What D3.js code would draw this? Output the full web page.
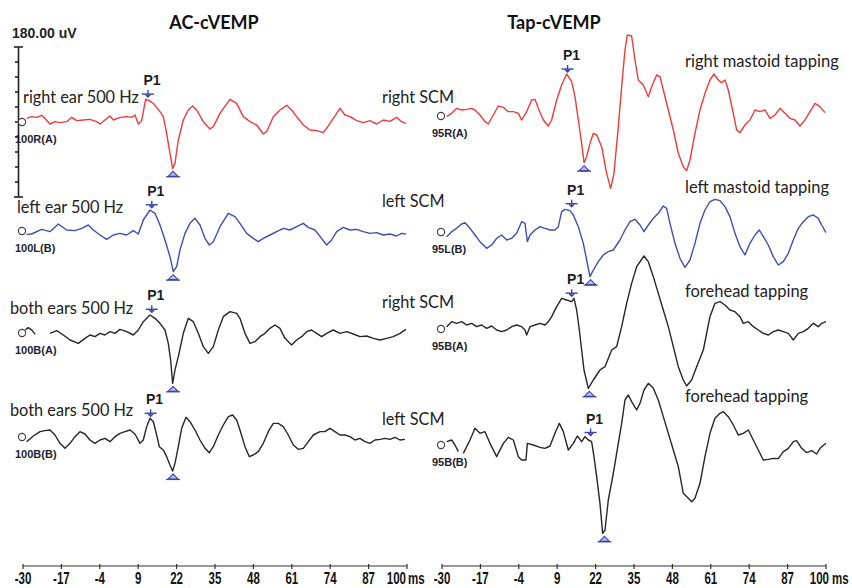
<!DOCTYPE html>
<html><head><meta charset="utf-8">
<script src="https://cdn.jsdelivr.net/npm/d3@7"></script>
<style>
body{margin:0;background:#fff;}
svg{display:block;}
</style></head>
<body>
<svg id="chart" width="852" height="588"></svg>
<script>
// ---------- DATA ----------
const timeTicks = [-30, -17, -4, 9, 22, 35, 48, 61, 74, 87, 100];
const timeUnit = "ms";
const scaleLabel = "180.00 uV";
const panelTitles = ["AC-cVEMP", "Tap-cVEMP"];

const acLabels = ["right ear 500 Hz", "left ear 500 Hz", "both ears 500 Hz", "both ears 500 Hz"];
const acIds = ["100R(A)", "100L(B)", "100B(A)", "100B(B)"];
const tapMuscles = ["right SCM", "left SCM", "right SCM", "left SCM"];
const tapLabels = ["right mastoid tapping", "left mastoid tapping", "forehead tapping", "forehead tapping"];
const tapIds = ["95R(A)", "95L(B)", "95B(A)", "95B(B)"];
const traceColors = ["red", "blue", "black", "black"];

// [time ms, amplitude uV]
const acRightEar = [[-28.8,4.4],[-27.1,6.4],[-25.4,5.6],[-23.7,8],[-22.6,4.4],[-20.9,-2.4],[-19.2,0.4],[-17.5,-0.8],[-15.2,0.4],[-13.5,5.6],[-11.8,1.6],[-9.6,2.4],[-7.3,3.2],[-5.1,0.4],[-3.9,-2.4],[-2.25,2.4],[-0.55,7.2],[0.58,2.4],[2.83,5.6],[5.09,6.4],[6.78,5.6],[7.91,8.4],[9.04,-2.4],[10.17,1.6],[11.52,27.2],[12.65,25.6],[14.12,22.4],[16.37,12.4],[17.5,6.4],[18.63,-13.6],[19.76,-37.6],[20.66,-55.6],[21.45,-49.6],[22.58,-21.6],[24.27,2.4],[25.96,14.4],[27.43,19.2],[28.79,14.4],[31.04,0.4],[33.3,-8.4],[34.43,-5.6],[36.69,10.4],[40.07,27.2],[42.33,22.4],[44.58,6.4],[46.84,0.4],[49.1,-3.6],[51.35,-14.4],[52.48,-11.6],[54.74,6.4],[57,14.4],[59.25,20],[60.94,14.4],[62.64,6.4],[64.9,-3.6],[67.15,-9.6],[69.41,-10.4],[71.67,-12.8],[72.79,-7.6],[75.05,4.4],[77.31,16.4],[79,8.4],[80.69,6.4],[82.95,1.6],[85.2,-0.8],[87.46,1.6],[89.72,-2.4],[91.97,2.4],[94.23,0.8],[96.49,5.6],[98.18,0.4],[99.65,-1.6]];
const acLeftEar = [[-28.8,-4],[-27.07,-3.6],[-23.68,2],[-20.86,-0.8],[-18.04,8.4],[-15.22,1.2],[-12.4,0.4],[-10.14,3.2],[-7.89,7.2],[-6.19,1.2],[-3.94,-4.8],[-1.68,-10],[0.58,-4.8],[2.83,-2.8],[5.09,-4.8],[7.35,0.4],[9.04,-3.6],[10.73,13.2],[12.99,25.2],[14.68,21.2],[16.37,7.2],[18.07,-10.8],[19.76,-30.8],[20.89,-48.8],[22.02,-42.8],[23.14,-22.8],[24.84,-2.8],[26.53,9.2],[28.22,15.2],[29.92,7.2],[31.61,-8.8],[33.07,-16.8],[34.43,-12.8],[36.69,5.2],[39.5,21.2],[41.76,17.2],[43.45,9.2],[45.71,-2.8],[47.97,-8.8],[49.66,-12.8],[51.35,-8.8],[53.61,-4.8],[55.87,-0.8],[58.12,3.2],[60.38,1.2],[62.64,5.2],[64.9,9.2],[66.59,4.4],[68.85,1.2],[71.1,-8.8],[72.79,-16.8],[74.49,-10.8],[76.18,-0.8],[78.44,4.4],[80.69,1.2],[82.95,2],[85.2,-0.8],[87.46,-2.8],[89.72,-2],[91.97,-4.8],[94.23,-3.6],[96.49,-6],[98.18,-2.8],[99.65,-3.6]];
const acBothEarsA = [[-29.2,3.6],[-28.2,6.4],[-26.9,3.2],[-25.9,-1.6],null,[-20.86,-0.4],[-18.6,2.8],[-16.35,-2.4],[-14.09,-8.4],[-11.27,-12.4],[-9.02,-6.4],[-7.32,-2.4],[-5.63,-4.4],[-3.94,-0.4],[-2.25,-2.4],[-0.55,1.6],[1.14,-0.4],[2.83,4.4],[5.09,1.6],[7.35,-2.4],[9.04,3.6],[10.73,13.6],[12.99,21.6],[14.68,17.6],[16.37,11.6],[18.07,3.6],[19.19,-12.4],[19.98,-32.4],[20.66,-60.4],[21.45,-44.4],[22.58,-28.4],[24.27,-0.4],[25.96,17.6],[27.66,13.6],[29.35,-0.4],[31.04,-16.4],[32.74,-24.4],[34.43,-16.4],[36.12,3.6],[37.81,19.6],[40.07,25.6],[42.33,23.6],[43.45,17.6],[45.15,-0.4],[46.84,-12.4],[48.53,-10.4],[50.23,-4.4],[51.92,-0.4],[53.61,5.6],[55.3,9.6],[57,5.6],[58.69,-6.4],[60.94,-14.4],[62.64,-8.4],[64.33,-4.4],[66.02,1.6],[67.71,3.6],[69.41,-0.4],[71.1,-4.4],[72.79,-0.4],[75.05,3.6],[77.31,-0.4],[79.57,1.6],[81.82,-1.2],[84.08,-4.4],[86.34,-3.6],[88.59,-6.4],[90.85,-8.4],[93.1,-6.4],[95.36,-4.4],[97.62,-0.4],[99.65,4.4]];
const acBothEarsB = [[-28.76,-5.6],[-26.51,1.2],[-24.25,6.4],[-22.56,7.6],[-20.86,8.4],[-19.17,2.4],[-17.48,-7.6],[-15.79,-13.6],[-14.09,-7.6],[-12.4,0.4],[-10.71,6.4],[-9.02,3.6],[-7.32,-3.6],[-5.63,-7.6],[-3.94,-3.6],[-2.25,-1.6],[-0.55,-5.6],[1.14,0.4],[2.83,4.4],[4.53,6.4],[6.22,8.4],[7.91,3.6],[9.6,-7.6],[10.73,-3.6],[11.86,12.4],[12.99,22.4],[14.12,18.4],[15.25,2.4],[16.15,-11.6],[17.5,-15.6],[18.63,-23.6],[19.76,-33.6],[20.66,-40.8],[21.45,-31.6],[22.58,-11.6],[23.71,10.4],[25.18,23.6],[26.53,18.4],[28.22,8.4],[29.92,-3.6],[31.61,-13.6],[33.07,-18.8],[34.43,-11.6],[36.12,2.4],[37.81,14.4],[39.51,24.4],[40.97,26.4],[42.33,20.4],[43.45,8.4],[45.15,-11.6],[46.62,-23.6],[47.97,-21.6],[49.66,-17.6],[51.35,-7.6],[53.05,6.4],[54.74,16.4],[56.43,16.4],[58.12,12.4],[59.82,2.4],[61.51,-9.6],[63.2,-14.8],[64.9,-13.6],[66.59,-5.6],[68.28,2.4],[70.54,6.4],[72.23,6.4],[73.92,10.4],[75.61,6.4],[77.31,2.4],[79,2.4],[80.69,0.4],[82.39,-3.6],[84.08,-1.6],[85.77,-5.6],[87.46,-7.6],[89.15,-3.6],[90.85,-2.8],[92.54,-1.6],[94.23,-2.8],[95.93,-0.4],[97.62,-3.6],[99.31,-2.8]];

const tapRightMastoid = [[-28.42,-0.8],[-26.73,3.2],[-25.04,9.2],[-23.34,7.2],[-21.65,8],[-19.96,9.2],[-18.83,7.2],[-17.14,1.2],[-15.45,-6.8],[-14.32,-9.6],[-12.62,1.2],[-10.93,12],[-9.24,10.4],[-7.55,5.2],[-5.85,5.2],[-4.16,3.2],[-3.03,-4.8],[-1.34,5.2],[0.35,19.2],[1.48,20],[2.61,9.2],[4.3,-4.8],[5.99,-12],[7.12,-4.8],[8.82,19.2],[10.51,37.2],[12.2,50.4],[13.89,41.2],[15.02,23.2],[16.15,-4.8],[17.28,-32.8],[18.07,-56],[18.97,-48.8],[20.1,-32.8],[21.23,-20.8],[22.36,-22.8],[24.05,-36.8],[25.74,-68.8],[27.09,-86.8],[28.22,-68.8],[29.69,-12.8],[30.82,35.2],[31.95,79.2],[32.74,97.2],[34.2,96],[35.33,67.2],[36.46,43.2],[38.15,37.2],[39.85,23.2],[40.98,35.2],[42.67,49.2],[43.8,47.2],[44.92,31.2],[46.62,7.2],[48.31,-16.8],[50,-44.8],[51.69,-60.8],[52.82,-65.6],[53.95,-52.8],[55.64,-20.8],[57.34,7.2],[59.03,27.2],[60.72,43.2],[62.08,50.4],[63.54,43.2],[64.67,40],[65.8,43.2],[66.93,31.2],[68.62,3.2],[69.75,-16.8],[70.88,-20],[72.57,-10.8],[74.26,-4.8],[75.96,7.2],[77.65,5.2],[79.34,7.2],[81.03,-2.8],[82.73,1.2],[84.42,9.2],[86.11,3.2],[87.8,-2.8],[89.5,-4.8],[91.19,-12],[92.88,-4.8],[94.57,5.2],[96.27,15.2],[97.96,11.2],[99.65,4]];
const tapLeftMastoid = [[-28.42,-5.6],[-26.73,0.4],[-25.04,4.4],[-23.34,9.6],[-22.22,11.2],[-20.52,4.4],[-18.83,-3.6],[-17.14,-11.6],[-14.88,-19.6],[-13.19,-15.6],[-11.5,-7.6],[-9.8,-3.6],[-8.11,-9.6],[-6.42,-7.6],[-4.73,-1.6],[-3.03,12.4],[-1.9,10.4],[-1.11,-11.6],[-0.21,-3.6],[1.48,2.4],[3.17,6.4],[4.87,4.4],[6.56,2.4],[8.25,2.4],[9.38,6.4],[10.51,24.4],[11.64,27.2],[13.33,25.6],[14.46,20.4],[16.15,6.4],[17.84,-13.6],[18.97,-33.6],[20.1,-53.6],[21.23,-45.6],[22.92,-35.6],[24.61,-27.6],[26.3,-23.6],[28,-21.6],[30.25,-9.6],[31.95,2.4],[33.64,12.4],[35.33,15.2],[37.03,8.4],[38.38,0.4],[39.85,8.4],[41.54,16.4],[43.23,22.4],[44.92,31.2],[46.05,28.4],[47.18,10.4],[48.87,-13.6],[50.57,-31.6],[52.26,-42.4],[53.95,-33.6],[55.64,-13.6],[57.34,10.4],[59.03,26.4],[60.72,36.4],[62.41,39.2],[64.11,37.6],[65.8,30.4],[67.49,18.4],[69.19,-1.6],[70.88,-17.6],[72.57,-27.6],[74.26,-13.6],[75.96,-3.6],[77.42,2.4],[78.77,-5.6],[80.47,-15.6],[82.16,-29.6],[83.85,-39.6],[85.55,-35.6],[87.24,-25.6],[88.93,-9.6],[90.63,4.4],[92.32,12.4],[94.01,18.4],[95.7,20.4],[97.4,16.4],[98.53,8.4],[99.98,-0.8]];
const tapForeheadA = [[-28.42,2.8],[-26.73,8.8],[-25.04,6.8],[-23.34,8.8],[-21.65,4.8],[-19.96,6.8],[-18.27,2.8],[-16.57,4.8],[-14.88,0.8],[-13.19,3.6],[-11.5,-1.2],[-9.8,-3.2],[-8.11,-1.2],[-6.42,2.8],[-4.73,4.8],[-3.03,2.8],[-1.9,-1.2],[-1.34,-7.2],[-0.21,2.8],[1.48,4.8],[3.17,6.8],[4.87,4.8],[5.99,8.8],[7.12,14.8],[8.82,26.8],[10.51,36.8],[12.2,34.8],[13.89,32.8],[14.68,36.8],[15.58,22.8],[16.49,-1.2],[17.28,-25.2],[18.07,-49.2],[19.53,-71.2],[21.23,-61.2],[23.48,-49.2],[25.18,-45.2],[27.43,-25.2],[29.13,-21.2],[30.82,2.8],[32.51,30.8],[34.2,54.8],[35.9,74.8],[38.38,87.6],[39.85,80.8],[41.54,62.8],[43.23,42.8],[44.92,22.8],[46.62,2.8],[48.31,-21.2],[50,-45.2],[51.69,-61.2],[52.82,-68.4],[54.51,-61.2],[56.21,-45.2],[58.47,-25.2],[59.59,-5.2],[60.72,14.8],[62.41,30.8],[64.11,32.8],[65.8,28.8],[67.49,22.8],[69.19,20.8],[70.88,14.8],[72,6.8],[73.7,8.8],[75.39,2.8],[77.08,-1.2],[78.77,-5.2],[80.47,-7.2],[82.16,-3.2],[83.85,-1.2],[85.55,-3.2],[87.24,-5.2],[88.93,-13.2],[90.63,-5.2],[92.32,-3.2],[94.01,0.8],[95.7,6.8],[97.4,2.8],[98.53,6.8],[99.98,8.8]];
const tapForeheadB = [[-28.42,4],[-26.73,6],[-25.6,0],[-24.47,-8],null,[-22.78,-10],[-20.52,6],[-18.83,20],[-17.14,14],[-15.45,16],[-13.75,2],[-11.5,-14],[-9.24,2],[-7.55,9.2],[-5.85,6],[-4.16,-14],[-3.03,-18],[-1.57,-18],[-1.11,2],[0.92,0],[3.17,-2.8],[4.87,-4],[6.56,-1.2],[8.25,14],[9.72,26],[11.07,16],[12.76,-6],[14.46,2],[15.81,10.8],[17.28,4],[18.41,10],[19.54,6],[20.66,4],[21.45,-14],[22.36,-38],[23.48,-70],[24.39,-106],[25.18,-102],[26.3,-66],[28,-34],[29.69,2],[30.82,26],[31.95,54],[33.08,60],[34.2,52],[35.9,42],[37.03,50],[38.38,66],[39.85,74],[41.54,68],[43.23,54],[44.92,34],[46.62,14],[48.31,-6],[50,-26],[51.69,-58],[53.39,-64],[54.52,-68],[55.64,-64],[57.34,-46],[59.03,-14],[60.72,14],[62.41,32],[64.11,38],[65.24,40],[66.93,34],[68.62,24],[70.31,12],[72,14],[73.7,18],[75.39,6],[77.08,-6],[78.77,-18],[80.47,-17.2],[82.16,-16],[83.85,-16.4],[85.55,-8],[87.24,-4],[88.93,4],[90.06,5.2],[91.75,-4],[93.45,-9.2],[95.14,-6.8],[96.83,-10.8],[97.96,-4],[99.98,2]];

// P1 peak and trough markers [time ms, amplitude uV]
const acP1 = [[12.3,27.5],[13.6,25.5],[13.6,22.5],[13.2,22.5]];
const acN1 = [[20.8,-55.6],[20.8,-48.8],[20.8,-60.4],[20.8,-40.8]];
const tapP1 = [[12.5,50.4],[13.9,28],[13.9,37],[20.3,9]];
const tapN1 = [[18.1,-56],[20.3,-53.6],[19.9,-71.2],[25.0,-106]];

// ---------- LAYOUT ----------
const svg = d3.select("#chart");
const colorMap = {red: "#ee3b3b", blue: "#3d4fb0", black: "#262626"};
const markerColor = "#3a46a8";
const labelFont = "Lato, 'Open Sans', sans-serif";
const boldFont = "'Liberation Sans', Arial, sans-serif";

const panels = [
  {x: d3.scaleLinear().domain([-30, 100]).range([23, 407]), bases: [122, 231, 333, 437],
   traces: [acRightEar, acLeftEar, acBothEarsA, acBothEarsB], ids: acIds, p1: acP1, n1: acN1, title: panelTitles[0], titleX: 214},
  {x: d3.scaleLinear().domain([-30, 100]).range([442, 826]), bases: [116, 232, 329, 445],
   traces: [tapRightMastoid, tapLeftMastoid, tapForeheadA, tapForeheadB], ids: tapIds, p1: tapP1, n1: tapN1, title: panelTitles[1], titleX: 554}
];
// amplitude: 180 uV spans 150 px
const amp = d3.scaleLinear().domain([-90, 90]).range([75, -75]);

// condensed bold text helper
function narrowText(sel, x, y, txt, anchor) {
  return sel.append("text")
    .attr("transform", `translate(${x},${y}) scale(0.72,1)`)
    .attr("text-anchor", anchor || "start").text(txt)
    .attr("font-family", boldFont).attr("font-weight", "bold").attr("font-size", 16).attr("fill", "#111");
}

// scale bar
const bar = svg.append("g").attr("stroke", "#222").attr("stroke-width", 1.6);
bar.append("line").attr("x1", 18.5).attr("x2", 18.5).attr("y1", amp(90) + 122).attr("y2", amp(-90) + 122);
d3.range(-90, 91, 18).forEach(v => {
  const y = amp(v) + 122;
  const cap = (v === 90 || v === -90);
  bar.append("line").attr("x1", cap ? 14 : 15).attr("x2", cap ? 23 : 18.5).attr("y1", y).attr("y2", y);
});
svg.append("text").attr("x", 12).attr("y", 38).text(scaleLabel)
  .attr("font-family", boldFont).attr("font-size", 14).attr("font-weight", "bold").attr("fill", "#222");

panels.forEach((p, pi) => {
  const g = svg.append("g");
  g.append("text").attr("x", p.titleX).attr("y", 29).attr("text-anchor", "middle").text(p.title)
    .attr("font-family", labelFont).attr("font-weight", "bold").attr("font-size", 18).attr("fill", "#111");

  p.traces.forEach((tr, i) => {
    const base = p.bases[i];
    const y = v => base + amp(v);
    const line = d3.line().defined(d => d != null).x(d => p.x(d[0])).y(d => y(d[1]));
    g.append("path").attr("d", line(tr)).attr("fill", "none")
      .attr("stroke", colorMap[traceColors[i]]).attr("stroke-width", 1.4).attr("stroke-linejoin", "round");
    // start circle
    g.append("circle").attr("cx", p.x(-30) - 1).attr("cy", y(0)).attr("r", 3.6)
      .attr("fill", "#fff").attr("stroke", "#444").attr("stroke-width", 1.2);
    g.append("text").attr("x", p.x(-30) - (pi === 0 ? 8 : 10)).attr("y", y(0) + 21)
      .text(p.ids[i]).attr("font-family", boldFont).attr("font-weight", "bold").attr("font-size", 11)
      .attr("fill", "#1e1e2e");
    // P1 marker
    const px = p.x(p.p1[i][0]), py = y(p.p1[i][1]);
    const mk = g.append("g").attr("stroke", markerColor).attr("stroke-width", 1.4).attr("fill", "none");
    mk.append("line").attr("x1", px).attr("x2", px).attr("y1", py - 9).attr("y2", py - 2);
    mk.append("line").attr("x1", px - 6).attr("x2", px + 6).attr("y1", py - 5).attr("y2", py - 5);
    mk.append("path").attr("d", `M${px - 2.5},${py - 4.5}L${px},${py - 2}L${px + 2.5},${py - 4.5}`);
    g.append("text").attr("x", px + 4).attr("y", py - 14).attr("text-anchor", "middle").text("P1")
      .attr("font-family", boldFont).attr("font-weight", "bold").attr("font-size", 14).attr("fill", "#1e1e1e");
    // trough marker
    const nx = p.x(p.n1[i][0]), ny = y(p.n1[i][1]) + 3;
    g.append("path").attr("d", `M${nx},${ny}L${nx + 5},${ny + 5}L${nx - 5},${ny + 5}Z`)
      .attr("fill", "#b8bdea").attr("stroke", markerColor).attr("stroke-width", 1.1);
    g.append("line").attr("x1", nx - 7).attr("x2", nx + 7).attr("y1", ny + 5.5).attr("y2", ny + 5.5)
      .attr("stroke", markerColor).attr("stroke-width", 1.2);
  });

  // time axis
  const ax = g.append("g");
  ax.append("line").attr("x1", p.x(-30)).attr("x2", p.x(100)).attr("y1", 566).attr("y2", 566)
    .attr("stroke", "#333").attr("stroke-width", 1.2);
  timeTicks.forEach(t => {
    ax.append("line").attr("x1", p.x(t)).attr("x2", p.x(t)).attr("y1", 564).attr("y2", 569)
      .attr("stroke", "#333").attr("stroke-width", 1.2);
    const last = t === 100;
    narrowText(ax, last ? p.x(t) + (pi === 0 ? -1 : 3) : p.x(t), 584, t, last ? "end" : "middle");
  });
  narrowText(ax, p.x(100) + (pi === 0 ? 1 : 6), 584, timeUnit, "start");
});

// condition labels
const acLabelPos = [[23, 103], [17, 213], [10, 314], [10, 416]];
acLabels.forEach((t, i) => svg.append("text").attr("x", acLabelPos[i][0]).attr("y", acLabelPos[i][1]).text(t)
  .attr("font-family", labelFont).attr("font-size", 16.3).attr("fill", "#222"));
const muscleY = [103, 207, 308, 425];
tapMuscles.forEach((t, i) => svg.append("text").attr("x", 382).attr("y", muscleY[i]).text(t)
  .attr("font-family", labelFont).attr("font-size", 16.3).attr("fill", "#222"));
const tapLabelY = [67, 193, 297, 402];
tapLabels.forEach((t, i) => svg.append("text").attr("x", 685).attr("y", tapLabelY[i]).text(t)
  .attr("font-family", labelFont).attr("font-size", 16.5).attr("fill", "#222"));
</script>
</body></html>
